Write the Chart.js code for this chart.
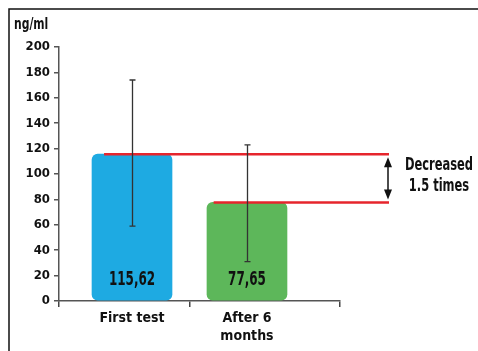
<!DOCTYPE html>
<html>
<head>
<meta charset="utf-8">
<script src="https://cdn.jsdelivr.net/npm/chart.js@4.4.1/dist/chart.umd.min.js"></script>
<style>
  html, body { margin: 0; padding: 0; background: #fff; }
  #wrap { width: 478px; height: 351px; position: relative; }
</style>
</head>
<body>
<div id="wrap"><canvas id="chart" width="478" height="351"></canvas></div>
<script>
// chart data
const categories = ['First test', ['After 6', 'months']];
const positions = [1, 2];
const meanValues = [115.62, 77.65];
const valueLabels = ['115,62', '77,65'];
const errorLow = [59, 31];
const errorHigh = [174, 123];
const barColors = ['#1eaae2', '#5db75a'];
const yTicks = [0, 20, 40, 60, 80, 100, 120, 140, 160, 180, 200];

const fontFamily = "'DejaVu Sans Condensed', 'DejaVu Sans', sans-serif";
const xMin = 0.365, xMax = 2.809;

// draw text squeezed horizontally, to get close to the condensed face of the original
function narrowText(ctx, text, x, y, squeeze) {
  ctx.save();
  ctx.translate(x, y);
  ctx.scale(squeeze, 1);
  ctx.fillText(text, 0, 0);
  ctx.restore();
}

// frame, error bars, value labels and the "decreased" annotation
const extras = {
  id: 'extras',
  beforeDraw(chart) {
    const ctx = chart.ctx;
    ctx.save();
    ctx.strokeStyle = '#111';
    ctx.lineWidth = 1.5;
    ctx.beginPath();
    ctx.moveTo(9, 351);
    ctx.lineTo(9, 9);
    ctx.lineTo(478, 9);
    ctx.stroke();
    ctx.fillStyle = '#111';
    ctx.font = 'bold 16px ' + fontFamily;
    ctx.textAlign = 'left';
    ctx.textBaseline = 'middle';
    narrowText(ctx, 'ng/ml', 14, 25, 0.75);
    ctx.restore();
  },
  afterDatasetsDraw(chart) {
    const ctx = chart.ctx;
    const x = chart.scales.x, y = chart.scales.y;
    ctx.save();

    // red comparison lines
    ctx.strokeStyle = '#e6252c';
    ctx.lineWidth = 2.5;
    const lineStarts = [0.757, 1.71];
    meanValues.forEach((v, i) => {
      ctx.beginPath();
      ctx.moveTo(x.getPixelForValue(lineStarts[i]), y.getPixelForValue(v));
      ctx.lineTo(389, y.getPixelForValue(v));
      ctx.stroke();
    });

    // error bars
    ctx.strokeStyle = '#333';
    ctx.lineWidth = 1.3;
    positions.forEach((p, i) => {
      const px = Math.round(x.getPixelForValue(p)) + 0.5;
      const top = y.getPixelForValue(errorHigh[i]);
      const bot = y.getPixelForValue(errorLow[i]);
      ctx.beginPath();
      ctx.moveTo(px, top); ctx.lineTo(px, bot);
      ctx.moveTo(px - 3, top); ctx.lineTo(px + 3, top);
      ctx.moveTo(px - 3, bot); ctx.lineTo(px + 3, bot);
      ctx.stroke();
    });

    // value labels inside bars
    ctx.fillStyle = '#111';
    ctx.font = 'bold 19px ' + fontFamily;
    ctx.textAlign = 'center';
    ctx.textBaseline = 'middle';
    positions.forEach((p, i) => {
      narrowText(ctx, valueLabels[i], x.getPixelForValue(p), 280, 0.7);
    });

    // double arrow
    const ax = 388;
    const aTop = y.getPixelForValue(meanValues[0]) + 3;
    const aBot = y.getPixelForValue(meanValues[1]) - 3;
    ctx.strokeStyle = '#111';
    ctx.lineWidth = 1.5;
    ctx.beginPath();
    ctx.moveTo(ax, aTop + 6); ctx.lineTo(ax, aBot - 6);
    ctx.stroke();
    ctx.beginPath();
    ctx.moveTo(ax, aTop); ctx.lineTo(ax - 4, aTop + 10); ctx.lineTo(ax + 4, aTop + 10); ctx.closePath();
    ctx.moveTo(ax, aBot); ctx.lineTo(ax - 4, aBot - 10); ctx.lineTo(ax + 4, aBot - 10); ctx.closePath();
    ctx.fill();

    ctx.font = 'bold 17px ' + fontFamily;
    narrowText(ctx, 'Decreased', 439, 166, 0.75);
    narrowText(ctx, '1.5 times', 439, 187, 0.75);
    ctx.restore();
  }
};

new Chart(document.getElementById('chart'), {
  type: 'bar',
  data: {
    datasets: [{
      data: positions.map((p, i) => ({ x: p, y: meanValues[i] })),
      backgroundColor: barColors,
      borderWidth: 0,
      borderRadius: 6,
      borderSkipped: false,
      barThickness: 80
    }]
  },
  plugins: [extras],
  options: {
    responsive: false,
    animation: false,
    layout: { padding: { top: 47, right: 138, left: 0, bottom: 0 } },
    plugins: { legend: { display: false }, tooltip: { enabled: false } },
    scales: {
      x: {
        type: 'linear',
        offset: false,
        min: xMin,
        max: xMax,
        afterBuildTicks: scale => {
          scale.ticks = [xMin, 1, 1.5, 2, xMax].map(v => ({ value: v }));
        },
        afterFit: scale => { scale.height = 50; },
        grid: {
          offset: false,
          drawOnChartArea: false,
          tickLength: 6,
          lineWidth: 1.5,
          color: c => (c.tick && (c.tick.value === 1 || c.tick.value === 2)) ? 'rgba(0,0,0,0)' : '#444'
        },
        border: { color: '#555', width: 1.5 },
        ticks: {
          autoSkip: false,
          maxRotation: 0,
          padding: 2,
          color: '#111',
          font: { family: fontFamily, size: 14, weight: 'bold', lineHeight: 1.3 },
          callback: v => {
            const i = positions.indexOf(v);
            return i >= 0 ? categories[i] : '';
          }
        }
      },
      y: {
        min: 0,
        max: 200,
        afterBuildTicks: scale => { scale.ticks = yTicks.map(v => ({ value: v })); },
        afterFit: scale => { scale.width = 59; },
        grid: { drawOnChartArea: false, tickLength: 5, color: '#555', lineWidth: 1.5 },
        border: { color: '#555', width: 1.5 },
        ticks: {
          padding: 4,
          color: '#111',
          font: { family: fontFamily, size: 13, weight: 'bold' }
        }
      }
    }
  }
});
</script>
</body>
</html>
